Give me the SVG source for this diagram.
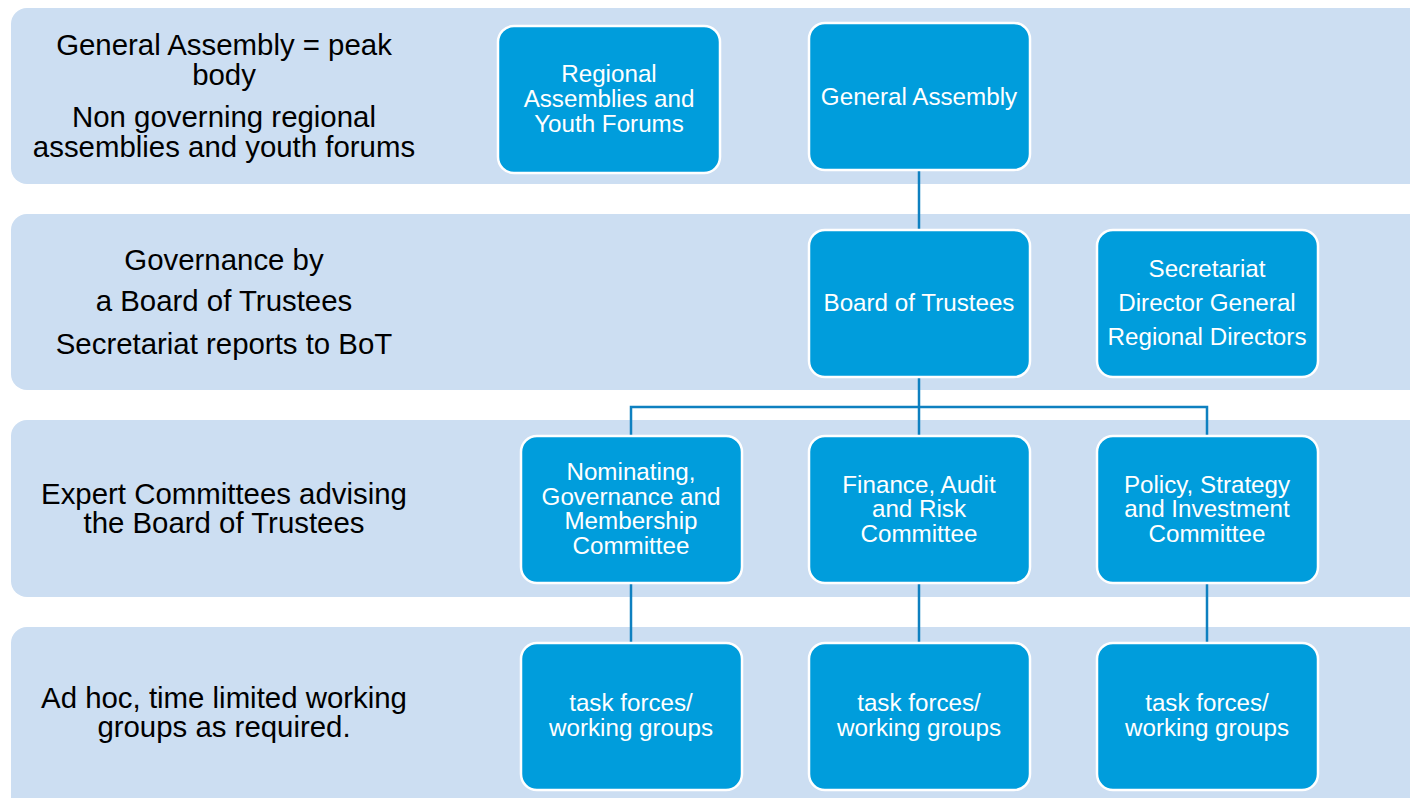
<svg xmlns="http://www.w3.org/2000/svg" width="1410" height="798" viewBox="0 0 1410 798">
<style>
.band{fill:#CCDEF2;}
.node{fill:#009DDC;stroke:#FFFFFF;stroke-width:2.5;}
.nt{font-family:"Liberation Sans",Arial,sans-serif;font-size:24.2px;fill:#FFFFFF;text-anchor:middle;}
.lt{font-family:"Liberation Sans",Arial,sans-serif;font-size:29.4px;fill:#000000;text-anchor:middle;}
.conn{stroke:#0E80C0;stroke-width:2.5;fill:none;}
</style>
<rect width="1410" height="798" fill="#FFFFFF"/>
<g id="bands">
<rect class="band" x="11" y="8" width="1420" height="176" rx="16"/>
<rect class="band" x="11" y="214" width="1420" height="176" rx="16"/>
<rect class="band" x="11" y="420" width="1420" height="177" rx="16"/>
<rect class="band" x="11" y="627" width="1420" height="190" rx="16"/>
</g>
<g id="labels">
<text class="lt" x="224" y="55">General Assembly = peak</text>
<text class="lt" x="224" y="85">body</text>
<text class="lt" x="224" y="127">Non governing regional</text>
<text class="lt" x="224" y="157">assemblies and youth forums</text>
<text class="lt" x="224" y="270">Governance by</text>
<text class="lt" x="224" y="311">a Board of Trustees</text>
<text class="lt" x="224" y="354">Secretariat reports to BoT</text>
<text class="lt" x="224" y="504">Expert Committees advising</text>
<text class="lt" x="224" y="533">the Board of Trustees</text>
<text class="lt" x="224" y="708">Ad hoc, time limited working</text>
<text class="lt" x="224" y="737">groups as required.</text>
</g>
<g id="connectors">
<line class="conn" x1="919" y1="170" x2="919" y2="230"/>
<line class="conn" x1="919" y1="377" x2="919" y2="436"/>
<polyline class="conn" points="631,436 631,407 1207,407 1207,436"/>
<line class="conn" x1="631" y1="583" x2="631" y2="643"/>
<line class="conn" x1="919" y1="583" x2="919" y2="643"/>
<line class="conn" x1="1207" y1="583" x2="1207" y2="643"/>
</g>
<g id="regional">
<rect class="node" x="498" y="26" width="222" height="147" rx="16"/>
<text class="nt" x="609" y="82">Regional</text>
<text class="nt" x="609" y="107">Assemblies and</text>
<text class="nt" x="609" y="132">Youth Forums</text>
</g>
<g id="general-assembly">
<rect class="node" x="809" y="23" width="221" height="147" rx="16"/>
<text class="nt" x="919" y="105">General Assembly</text>
</g>
<g id="board">
<rect class="node" x="809" y="230" width="221" height="147" rx="16"/>
<text class="nt" x="919" y="311">Board of Trustees</text>
</g>
<g id="secretariat">
<rect class="node" x="1097" y="230" width="221" height="147" rx="16"/>
<text class="nt" x="1207" y="277">Secretariat</text>
<text class="nt" x="1207" y="311">Director General</text>
<text class="nt" x="1207" y="345">Regional Directors</text>
</g>
<g id="nominating">
<rect class="node" x="521" y="436" width="221" height="147" rx="16"/>
<text class="nt" x="631" y="480">Nominating,</text>
<text class="nt" x="631" y="505">Governance and</text>
<text class="nt" x="631" y="529">Membership</text>
<text class="nt" x="631" y="554">Committee</text>
</g>
<g id="finance">
<rect class="node" x="809" y="436" width="221" height="147" rx="16"/>
<text class="nt" x="919" y="493">Finance, Audit</text>
<text class="nt" x="919" y="517">and Risk</text>
<text class="nt" x="919" y="542">Committee</text>
</g>
<g id="policy">
<rect class="node" x="1097" y="436" width="221" height="147" rx="16"/>
<text class="nt" x="1207" y="493">Policy, Strategy</text>
<text class="nt" x="1207" y="517">and Investment</text>
<text class="nt" x="1207" y="542">Committee</text>
</g>
<g id="task1">
<rect class="node" x="521" y="643" width="221" height="147" rx="16"/>
<text class="nt" x="631" y="711">task forces/</text>
<text class="nt" x="631" y="736">working groups</text>
</g>
<g id="task2">
<rect class="node" x="809" y="643" width="221" height="147" rx="16"/>
<text class="nt" x="919" y="711">task forces/</text>
<text class="nt" x="919" y="736">working groups</text>
</g>
<g id="task3">
<rect class="node" x="1097" y="643" width="221" height="147" rx="16"/>
<text class="nt" x="1207" y="711">task forces/</text>
<text class="nt" x="1207" y="736">working groups</text>
</g>
</svg>
